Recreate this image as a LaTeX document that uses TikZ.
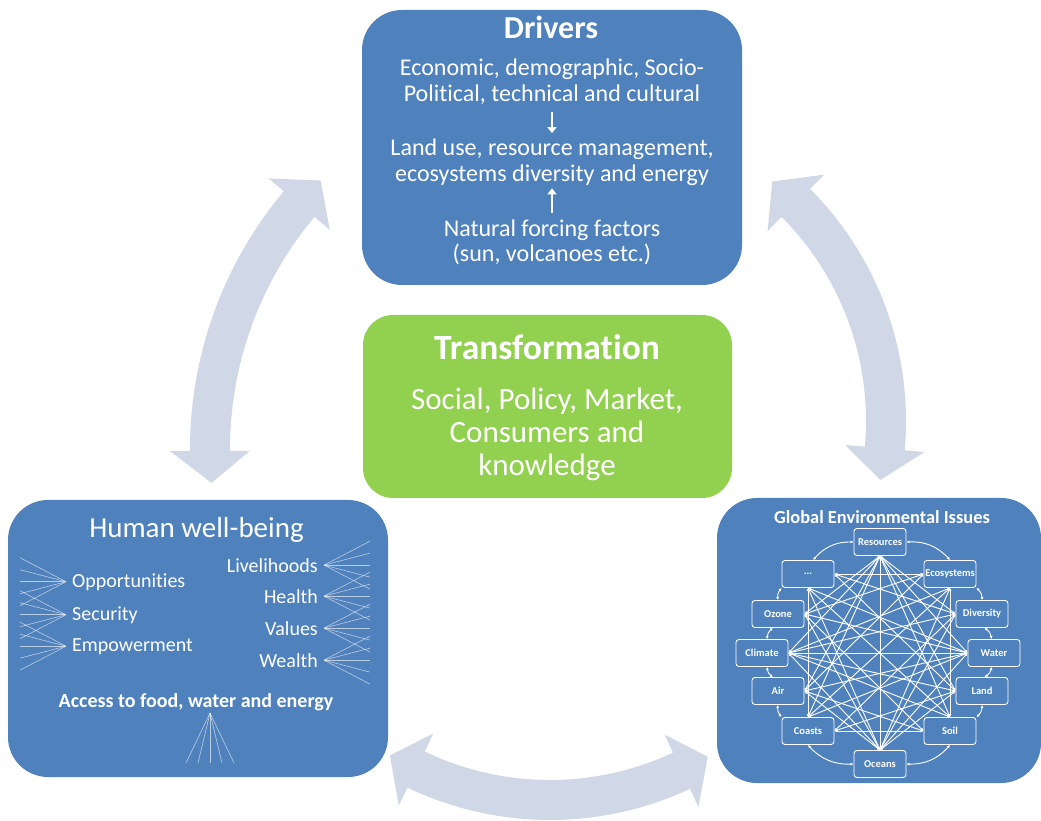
\documentclass[tikz,border=0pt]{standalone}
\usepackage{fontspec}
\setmainfont[Ligatures=NoCommon]{Carlito}
\usetikzlibrary{arrows.meta}
\definecolor{boxblue}{RGB}{79,129,189}
\definecolor{boxgreen}{RGB}{146,208,80}
\definecolor{arrowgray}{RGB}{208,216,232}
\newcommand{\fsize}[1]{\fontsize{#1}{#1}\selectfont}
\newcommand{\bendarrow}[6]{%
  \fill[bigarrow] ([shift={(#4:#2+20)}]#1) arc[start angle=#4, end angle=#5, radius=#2+20]
    -- ([shift={(#5:#2+40)}]#1) -- ([shift={(#6:#2)}]#1) -- ([shift={(#5:#2-40)}]#1)
    -- ([shift={(#5:#2-20)}]#1) arc[start angle=#5, end angle=#4, radius=#2-20]
    -- ([shift={(#4:#2-40)}]#1) -- ([shift={(#3:#2)}]#1) -- ([shift={(#4:#2+40)}]#1) -- cycle;}
\tikzset{
  bluebox/.style={fill=boxblue, rounded corners=40pt, inner sep=0pt},
  greenbox/.style={fill=boxgreen, rounded corners=30pt, inner sep=0pt},
  txt/.style={text=white, inner sep=0pt, anchor=base},
  item/.style={text=white, inner xsep=6pt, inner ysep=0pt, font=\fsize{20}},
  fanline/.style={white, opacity=.6, line width=.6pt},
  issue/.style={draw=white, line width=.9pt, rounded corners=3pt, text=white,
    font=\bfseries\fsize{10.5}, minimum width=52pt, minimum height=27pt, inner sep=0pt},
  link/.style={white, line width=.9pt, {Latex[length=3pt,width=3pt]}-{Latex[length=3pt,width=3pt]}},
  ringlink/.style={link, bend left=25},
  bigarrow/.style={fill=arrowgray},
  flowarrow/.style={white, line width=1.8pt, -{Triangle[length=6pt,width=9pt]}}
}
\begin{document}
\begin{tikzpicture}[x=1pt,y=1pt]
\useasboundingbox (0,0) rectangle (1041,820);
\coordinate (lcen) at (591,371);
\coordinate (rcen) at (577,399);
\coordinate (bcen) at (550,330);
\bendarrow{lcen}{381}{185.1}{180.3}{140}{135.2}
\bendarrow{rcen}{309}{50.8}{44.9}{-5.1}{-11}
\bendarrow{bcen}{310}{238.9}{244.4}{295.1}{300.6}

\node[bluebox, minimum width=380pt, minimum height=275pt] (drivers) at (552,672.5) {};
\node[greenbox, minimum width=369pt, minimum height=183pt] (transf) at (547.5,413.5) {};
\node[bluebox, minimum width=380pt, minimum height=277pt] (wellbeing) at (198,181.5) {};
\node[bluebox, minimum width=324pt, minimum height=285pt] (issues) at (879,179.5) {};

\node[txt, font=\bfseries\fsize{32}] (drvtitle) at (551,781) {Drivers};
\node[txt, font=\fsize{24}] (econa) at (552,744) {Economic, demographic, Socio-};
\node[txt, font=\fsize{24}] (econb) at (552,718) {Political, technical and cultural};
\node[txt, font=\fsize{24}] (landa) at (552,664) {Land use, resource management,};
\node[txt, font=\fsize{24}] (landb) at (552,638) {ecosystems diversity and energy};
\node[txt, font=\fsize{24}] (natura) at (552,583) {Natural forcing factors};
\node[txt, font=\fsize{24}] (naturb) at (552,558) {(sun, volcanoes etc.)};
\draw[flowarrow, shorten <=7pt, shorten >=6pt] (econb) -- (landa);
\draw[flowarrow, shorten <=7pt, shorten >=2pt] (natura) -- (landb);

\node[txt, font=\bfseries\fsize{35.5}] (trtitle) at (547,460) {Transformation};
\node[txt, font=\fsize{31}] (tra) at (547,410) {Social, Policy, Market,};
\node[txt, font=\fsize{31}] (trb) at (547,377) {Consumers and};
\node[txt, font=\fsize{31}] (trc) at (547,344) {knowledge};

\node[txt, font=\fsize{29}] (hwtitle) at (196.5,283) {Human well-being};
\node[item, anchor=base west] (opp) at (66,233) {Opportunities};
\node[item, anchor=base west] (sec) at (66,200) {Security};
\node[item, anchor=base west] (emp) at (66,169) {Empowerment};
\node[item, anchor=base east] (live) at (324,248) {Livelihoods};
\node[item, anchor=base east] (health) at (324,217) {Health};
\node[item, anchor=base east] (values) at (324,185) {Values};
\node[item, anchor=base east] (wealth) at (324,153) {Wealth};
\node[txt, font=\bfseries\fsize{20}] (access) at (196,113) {Access to food, water and energy};
\coordinate (accfan) at (210,107);
\foreach \n in {opp,sec,emp}
  \foreach \d in {-24,-12,0,12,24}
    \draw[fanline] (\n.west) -- ++(-46,\d);
\foreach \n in {live,health,values,wealth}
  \foreach \d in {-24,-12,0,12,24}
    \draw[fanline] (\n.east) -- ++(46,\d);
\foreach \d in {-24,-12,0,12,24}
  \draw[fanline] (accfan) -- ++(\d,-50);

\node[txt, font=\bfseries\fsize{18.4}] (geititle) at (882,297) {Global Environmental Issues};
\node[issue] (res) at (880,278) {Resources};
\node[issue] (eco) at (950,246) {Ecosystems};
\node[issue] (div) at (982,206) {Diversity};
\node[issue] (wat) at (994,167) {Water};
\node[issue] (land) at (982,129) {Land};
\node[issue] (soil) at (950,89) {Soil};
\node[issue] (ocean) at (880,56) {Oceans};
\node[issue] (coast) at (808,89) {Coasts};
\node[issue] (air) at (778,129) {Air};
\node[issue] (clim) at (762,167) {Climate};
\node[issue] (ozone) at (778,206) {Ozone};
\node[issue] (dots) at (808,246) {...};

\foreach \a/\b in {res.south/ozone.east, res.south/clim.east, res.south/air.east,
  res.south/coast.north, res.south/ocean.north, res.south/soil.north, res.south/land.west,
  res.south/wat.west, res.south/div.west,
  ocean.north/ozone.east, ocean.north/clim.east, ocean.north/air.east, ocean.north/land.west,
  ocean.north/wat.west, ocean.north/div.west, ocean.north/dots.south, ocean.north/eco.south,
  clim.east/wat.west, clim.east/div.west, clim.east/land.west, clim.east/eco.south,
  clim.east/soil.north,
  wat.west/ozone.east, wat.west/air.east, wat.west/dots.south, wat.west/coast.north,
  dots.east/eco.west, dots.south/coast.north, eco.south/soil.north, coast.east/soil.west,
  dots.south/soil.north, eco.south/coast.north,
  dots.east/div.west, dots.east/land.west, eco.west/ozone.east, eco.west/air.east,
  coast.east/div.west, coast.east/land.west, soil.west/ozone.east, soil.west/air.east}
  \draw[link] (\a) -- (\b);

\foreach \a/\b in {res.east/eco.north, eco.south east/div.north, div.-80/wat.100,
  wat.-100/land.80, land.south/soil.north east, soil.south/ocean.east,
  ocean.west/coast.south, coast.north west/air.south, air.110/clim.-70,
  clim.70/ozone.-110, ozone.north/dots.south west, dots.70/res.west}
  \draw[ringlink] (\a) to (\b);
\end{tikzpicture}
\end{document}
